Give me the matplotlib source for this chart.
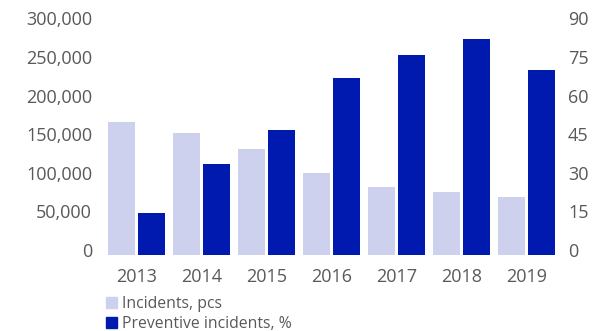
"""Incidents vs. share of preventive incidents, 2013-2019."""

import numpy as np
import matplotlib
matplotlib.use("Agg")
import matplotlib.pyplot as plt
from matplotlib.patches import Patch
from matplotlib.transforms import ScaledTranslation

years = ["2013", "2014", "2015", "2016", "2017", "2018", "2019"]
incidents = [172000, 158000, 137000, 106000, 88000, 82000, 75000]
preventive_pct = [16.3, 35.4, 48.6, 68.8, 77.7, 83.9, 71.9]

left_ticks = [0, 50000, 100000, 150000, 200000, 250000, 300000]
right_ticks = [0, 15, 30, 45, 60, 75, 90]

LIGHT = "#CDD1EE"
DARK = "#001AAF"
TEXT = "#595959"

plt.rcParams["font.family"] = ["Open Sans", "DejaVu Sans"]

fig = plt.figure(figsize=(6.1, 3.31), dpi=100)
ax = fig.add_axes([104 / 610, 76 / 331, 455 / 610, 231.6 / 331])
ax2 = ax.twinx()

x = np.arange(len(years))
w = 27 / 65
off = 15 / 65
ax.bar(x - off, incidents, width=w, color=LIGHT)
ax2.bar(x + off, preventive_pct, width=w, color=DARK)

ax.set_xlim(-0.5, len(years) - 0.5)
ax.set_ylim(0, 300000)
ax2.set_ylim(0, 90)

ax.set_xticks(x)
ax.set_xticklabels(years)
ax.set_yticks(left_ticks)
ax.set_yticklabels([f"{v:,}" for v in left_ticks])
ax2.set_yticks(right_ticks)
ax2.set_yticklabels([str(v) for v in right_ticks])

for a in (ax, ax2):
    for s in a.spines.values():
        s.set_visible(False)
    a.tick_params(length=0, labelsize=13, labelcolor=TEXT)
ax.tick_params(axis="y", pad=8.6)
ax.tick_params(axis="x", pad=9)
ax2.tick_params(axis="y", pad=6.5)

# y labels sit a few pixels above their gridline positions in the original
shift = ScaledTranslation(0, 5 / 100, fig.dpi_scale_trans)
for a in (ax, ax2):
    for t in a.yaxis.get_major_ticks():
        t.label1.set_transform(t.label1.get_transform() + shift)
        t.label2.set_transform(t.label2.get_transform() + shift)

handles = [Patch(color=LIGHT, label="Incidents, pcs"),
           Patch(color=DARK, label="Preventive incidents, %")]
fig.legend(handles=handles, loc="upper left",
           bbox_to_anchor=(106 / 610, 1 - 296 / 331),
           frameon=False, fontsize=11.3, labelcolor=TEXT,
           handlelength=0.68, handleheight=0.68, handletextpad=0.33,
           labelspacing=0.25, borderpad=0, borderaxespad=0)

fig.savefig("out.png", dpi=100)
